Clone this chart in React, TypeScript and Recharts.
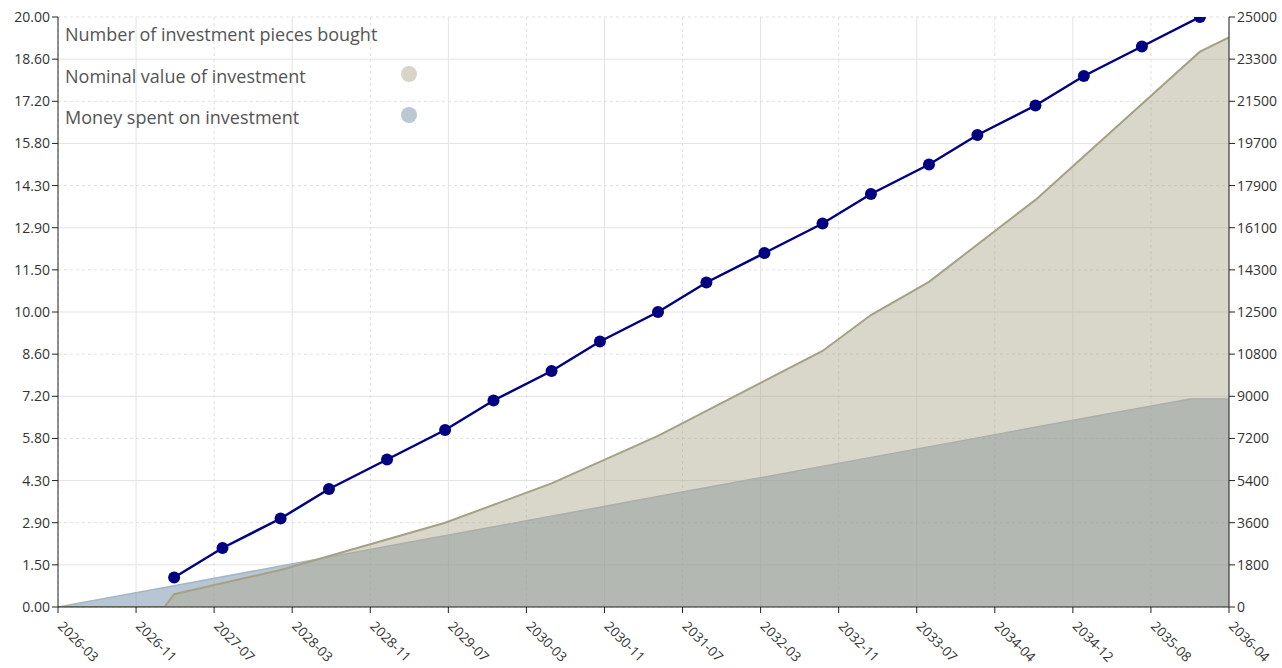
import {
  ComposedChart,
  Line,
  Area,
  XAxis,
  YAxis,
  CartesianGrid,
} from "recharts";

// month labels as "YYYY-MM", converted to months since 2026-03
const startYear = 2026;
const startMonth = 3;
const totalMonths = 121;

const xTickLabels = [
  "2026-03", "2026-11", "2027-07", "2028-03", "2028-11", "2029-07", "2030-03", "2030-11",
  "2031-07", "2032-03", "2032-11", "2033-07", "2034-04", "2034-12", "2035-08", "2036-04",
];
const leftTickLabels = [
  "0.00", "1.50", "2.90", "4.30", "5.80", "7.20", "8.60", "10.00",
  "11.50", "12.90", "14.30", "15.80", "17.20", "18.60", "20.00",
];
const rightTickLabels = [
  "0", "1800", "3600", "5400", "7200", "9000", "10800", "12500",
  "14300", "16100", "17900", "19700", "21500", "23300", "25000",
];

const pieceDates = [
  "2027-03", "2027-08", "2028-02", "2028-07", "2029-01", "2029-07", "2029-12", "2030-06",
  "2030-11", "2031-05", "2031-10", "2032-04", "2032-10", "2033-03", "2033-09", "2034-02",
  "2034-08", "2035-01", "2035-07", "2036-01",
];
const pieceCounts = [1, 2, 3, 4, 5, 6, 7, 8, 9, 10, 11, 12, 13, 14, 15, 16, 17, 18, 19, 20];

const nominalDates = [
  "2026-03", "2027-02", "2027-03", "2028-02", "2029-07", "2030-06", "2031-05",
  "2032-10", "2033-03", "2033-09", "2034-08", "2036-01", "2036-04",
];
const nominalValues = [0, 0, 540, 1570, 3570, 5240, 7250, 10850, 12370, 13780, 17250, 23530, 24140];

const spentDates = [
  "2026-03", "2027-03", "2028-03", "2029-03", "2030-03", "2031-03", "2032-03",
  "2033-03", "2034-03", "2035-03", "2035-12", "2036-04",
];
const spentValues = [0, 900, 1810, 2720, 3620, 4530, 5430, 6340, 7240, 8150, 8810, 8810];

const toMonth = (s: string) => {
  const [y, m] = s.split("-").map(Number);
  return (y - startYear) * 12 + (m - startMonth);
};

const pieceData = pieceDates.map((d, i) => ({ month: toMonth(d), value: pieceCounts[i] }));
const nominalData = nominalDates.map((d, i) => ({ month: toMonth(d), value: nominalValues[i] }));
const spentData = spentDates.map((d, i) => ({ month: toMonth(d), value: spentValues[i] }));

const xTicks = xTickLabels.map((_, i) => (i * totalMonths) / (xTickLabels.length - 1));
const leftTicks = leftTickLabels.map((_, i) => (i * 20) / (leftTickLabels.length - 1));
const rightTicks = rightTickLabels.map((_, i) => (i * 25000) / (rightTickLabels.length - 1));

// grid alternates: odd ticks solid, even ticks dotted
const solidX = xTicks.filter((_, i) => i % 2 === 1);
const dashedX = xTicks.filter((_, i) => i % 2 === 0);
const solidY = leftTicks.filter((_, i) => i % 2 === 1);
const dashedY = leftTicks.filter((_, i) => i % 2 === 0);

const font = "'Open Sans', 'Noto Sans', sans-serif";
const axisColor = "#222";
const tickText = { fontSize: 14, fill: "#333", fontFamily: font };

const XTick = (props: any) => {
  const { x, y, index } = props;
  return (
    <text
      x={x - 1}
      y={y + 12}
      transform={`rotate(45, ${x - 1}, ${y + 12})`}
      textAnchor="start"
      fontSize={13.5}
      fill="#333"
      fontFamily={font}
    >
      {xTickLabels[index]}
    </text>
  );
};

const legendItems = [
  { label: "Number of investment pieces bought", color: null },
  { label: "Nominal value of investment", color: "#d8d5c8" },
  { label: "Money spent on investment", color: "#bac7d4" },
];

export default function App() {
  return (
    <div style={{ position: "absolute", left: 0, top: 0, width: 1282, height: 668 }}>
      <ComposedChart
        width={1282}
        height={668}
        margin={{ top: 17, right: 0, bottom: 0, left: 0 }}
      >
        <CartesianGrid
          yAxisId="left"
          stroke="#e3e3e3"
          horizontalValues={solidY}
          verticalValues={solidX}
        />
        <CartesianGrid
          yAxisId="left"
          stroke="#e0e0e0"
          strokeDasharray="3 3"
          horizontalValues={dashedY}
          verticalValues={dashedX}
        />
        <XAxis
          type="number"
          dataKey="month"
          domain={[0, totalMonths]}
          ticks={xTicks}
          interval={0}
          tick={<XTick />}
          height={61}
          stroke={axisColor}
          tickSize={6}
          allowDataOverflow
        />
        <YAxis
          yAxisId="left"
          orientation="left"
          domain={[0, 20]}
          ticks={leftTicks}
          interval={0}
          tickFormatter={(_v: number, i: number) => leftTickLabels[i]}
          width={58}
          stroke={axisColor}
          tick={tickText}
          tickSize={6}
          allowDataOverflow
        />
        <YAxis
          yAxisId="right"
          orientation="right"
          domain={[0, 25000]}
          ticks={rightTicks}
          interval={0}
          tickFormatter={(_v: number, i: number) => rightTickLabels[i]}
          width={53}
          stroke={axisColor}
          tick={tickText}
          tickSize={6}
          allowDataOverflow
        />
        <Area
          data={spentData}
          yAxisId="right"
          type="linear"
          dataKey="value"
          stroke="#a6b5c3"
          strokeWidth={1.5}
          fill="#718da9"
          fillOpacity={0.5}
          isAnimationActive={false}
        />
        <Area
          data={nominalData}
          yAxisId="right"
          type="linear"
          dataKey="value"
          stroke="#a5a185"
          strokeWidth={2}
          fill="#aea88e"
          fillOpacity={0.47}
          isAnimationActive={false}
        />
        <Line
          data={pieceData}
          yAxisId="left"
          type="linear"
          dataKey="value"
          stroke="#000080"
          strokeWidth={2.5}
          dot={{ r: 6, fill: "#000080", stroke: "#000080", strokeWidth: 0 }}
          isAnimationActive={false}
        />
      </ComposedChart>
      <div style={{ position: "absolute", left: 65, top: 25, fontFamily: font, color: "#555" }}>
        {legendItems.map((item, i) => (
          <div
            key={item.label}
            style={{ position: "absolute", top: i * 41.5, left: 0, fontSize: 18, lineHeight: "18px", whiteSpace: "nowrap" }}
          >
            {item.label}
          </div>
        ))}
        {legendItems.map((item, i) =>
          item.color ? (
            <div
              key={item.label + "dot"}
              style={{
                position: "absolute",
                left: 336,
                top: i * 41.5 - 1,
                width: 16,
                height: 16,
                borderRadius: 8,
                background: item.color,
              }}
            />
          ) : null
        )}
      </div>
    </div>
  );
}
